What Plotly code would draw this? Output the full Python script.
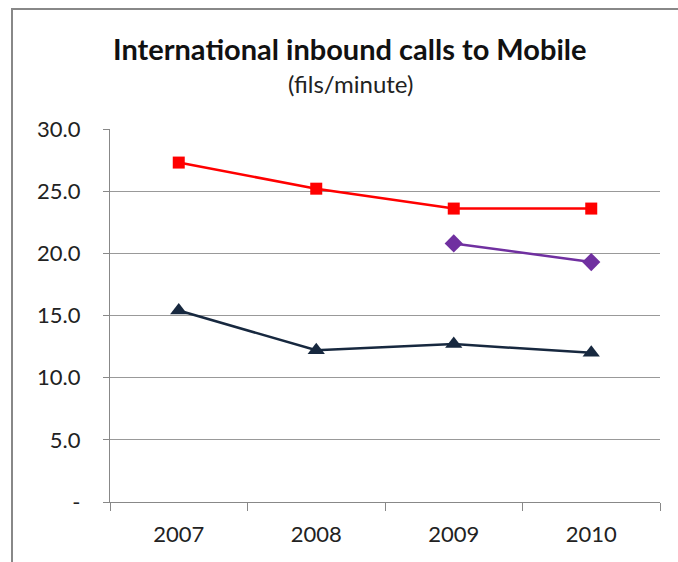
import plotly.graph_objects as go

years = ["2007", "2008", "2009", "2010"]
series_red = [27.3, 25.2, 23.6, 23.6]
series_purple = [None, None, 20.8, 19.3]
series_navy = [15.4, 12.2, 12.7, 12.0]
ytick_vals = [0, 5, 10, 15, 20, 25, 30]
ytick_text = ["-", "5.0", "10.0", "15.0", "20.0", "25.0", "30.0"]

W, H = 678, 562
L, R, T, B = 110, 18, 129, 60
pw, ph = W - L - R, H - T - B

fig = go.Figure()
fig.add_trace(go.Scatter(x=years, y=series_red, mode="lines+markers",
                         line=dict(color="#FF0000", width=2.5),
                         marker=dict(symbol="square", size=12, color="#FF0000")))
fig.add_trace(go.Scatter(x=years, y=series_purple, mode="lines+markers",
                         line=dict(color="#7030A0", width=2.5),
                         marker=dict(symbol="diamond", size=14, color="#7030A0")))
fig.add_trace(go.Scatter(x=years, y=series_navy, mode="lines+markers",
                         line=dict(color="#17283F", width=2.5),
                         marker=dict(symbol="triangle-up", size=15, color="#17283F")))

font = "Lato, Carlito, 'Open Sans', sans-serif"
fig.update_layout(
    width=W, height=H,
    margin=dict(l=L, r=R, t=T, b=B),
    paper_bgcolor="white", plot_bgcolor="white",
    showlegend=False,
    font=dict(family=font, size=22, color="#222"),
    xaxis=dict(type="category", range=[-0.5, 3.5], showgrid=False,
               showline=True, linecolor="#888", linewidth=1.2,
               ticks="outside", tickson="boundaries", ticklen=8, tickcolor="#888",
               tickfont=dict(size=22, color="#222"), zeroline=False,
               ticklabelstandoff=12),
    yaxis=dict(range=[0, 30], tickvals=ytick_vals, ticktext=ytick_text,
               showgrid=True, gridcolor="#999", gridwidth=1.2,
               showline=True, linecolor="#888", linewidth=1.2,
               ticks="outside", ticklen=6, tickcolor="#888",
               tickfont=dict(size=22, color="#222"), zeroline=False,
               ticklabelstandoff=18),
    annotations=[
        dict(text="<b>International inbound calls to Mobile</b>", xref="paper", yref="paper",
             x=(350 - L) / pw, y=(H - B - 48) / ph, xanchor="center", yanchor="middle",
             showarrow=False, font=dict(size=29, color="#111", family=font)),
        dict(text="(fils/minute)", xref="paper", yref="paper",
             x=(350 - L) / pw, y=(H - B - 84) / ph, xanchor="center", yanchor="middle",
             showarrow=False, font=dict(size=24, color="#222", family=font)),
    ],
    shapes=[dict(type="rect", xref="paper", yref="paper",
                 x0=(12 - L) / pw, x1=(700 - L) / pw,
                 y0=(H - B - 580) / ph, y1=(H - B - 9) / ph,
                 line=dict(color="#888", width=2), layer="below")],
)

fig.write_html("out.html", config={"displayModeBar": False},
               post_script="document.body.style.margin='0';document.body.style.overflow='hidden';")
